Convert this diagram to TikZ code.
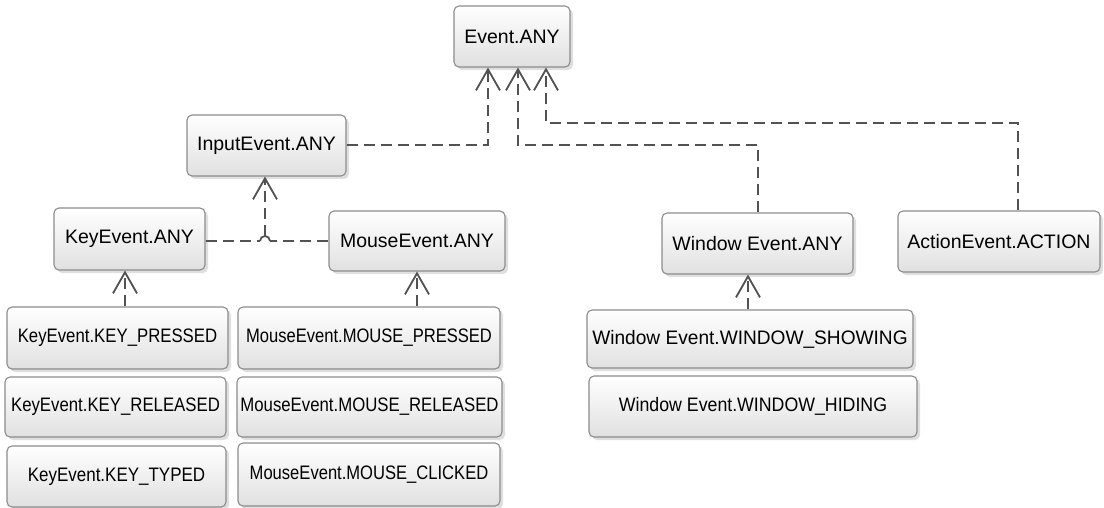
\documentclass[tikz,border=0pt]{standalone}
\usepackage{fontspec}
\usepackage{graphicx}
\setmainfont{Liberation Sans}
\usetikzlibrary{arrows.meta,shadows}
\newcommand{\sq}[2]{\scalebox{#1}[1]{#2}}
\begin{document}
\begin{tikzpicture}[x=1pt,y=-1pt,
  box/.style={draw=black!45, line width=1.1pt, rounded corners=5pt,
    top color=white, bottom color=black!12,
    drop shadow={opacity=0.25,shadow xshift=3pt,shadow yshift=-3pt},
    inner sep=0pt, font=\fontsize{19.5}{22}\selectfont, text=black},
  conn/.style={draw=black!68, line width=1.8pt, dash pattern=on 11pt off 6pt},
  arr/.style={conn, -{Straight Barb[length=21pt,width=24pt,line width=1.8pt]}}]
\fill[white] (0,0) rectangle (1104,508);
\useasboundingbox (0,0) rectangle (1104,508);

\node[box, minimum width=116pt, minimum height=61pt] (ev) at (512,36.5) {Event.ANY};
\node[box, minimum width=159pt, minimum height=61pt] (inp) at (266.5,145.5) {InputEvent.ANY};
\node[box, minimum width=151pt, minimum height=62pt] (key) at (129.5,239) {KeyEvent.ANY};
\node[box, minimum width=176pt, minimum height=60pt] (mouse) at (417,241) {MouseEvent.ANY};
\node[box, minimum width=191pt, minimum height=61pt] (win) at (757.5,243.5) {Window Event.ANY};
\node[box, minimum width=202pt, minimum height=61pt] (act) at (999,241.5) {ActionEvent.ACTION};

\node[box, minimum width=221pt, minimum height=62pt] (kp) at (117.5,338) {\sq{0.86}{KeyEvent.KEY\_PRESSED}};
\node[box, minimum width=221pt, minimum height=60pt] (kr) at (115.5,407) {\sq{0.86}{KeyEvent.KEY\_RELEASED}};
\node[box, minimum width=219pt, minimum height=61pt] (kt) at (116.5,476.5) {\sq{0.87}{KeyEvent.KEY\_TYPED}};
\node[box, minimum width=262pt, minimum height=62pt] (mp) at (369,338) {\sq{0.85}{MouseEvent.MOUSE\_PRESSED}};
\node[box, minimum width=265pt, minimum height=60pt] (mr) at (369.5,407) {\sq{0.86}{MouseEvent.MOUSE\_RELEASED}};
\node[box, minimum width=262pt, minimum height=63pt] (mc) at (369,474.5) {\sq{0.85}{MouseEvent.MOUSE\_CLICKED}};
\node[box, minimum width=326pt, minimum height=58pt] (ws) at (750,339) {\sq{0.98}{Window Event.WINDOW\_SHOWING}};
\node[box, minimum width=328pt, minimum height=61pt] (wh) at (753,406.5) {\sq{0.91}{Window Event.WINDOW\_HIDING}};

% connectors to Event.ANY
\coordinate (a1) at (488,145);
\coordinate (a2) at (518,145);
\coordinate (a3) at (546,123);
\coordinate (w0) at (758,0);
\coordinate (c0) at (1018,0);
\draw[arr] (inp.east |- a1) -- (a1) -- (a1 |- ev.south);
\draw[arr] (w0 |- win.north) |- (a2) -- (a2 |- ev.south);
\draw[arr] (c0 |- act.north) |- (a3) -- (a3 |- ev.south);

% Key/Mouse to InputEvent
\coordinate (j) at (265,241);
\draw[conn] (key.east |- j) -- ([xshift=-5pt]j);
\draw[conn] (mouse.west |- j) -- ([xshift=5pt]j);
\draw[draw=black!68, line width=1.8pt] ([xshift=-5pt]j) arc[start angle=180,end angle=0,radius=5pt];
\draw[arr] ([yshift=5pt]j) -- (j |- inp.south);

% children
\coordinate (k0) at (125,0);
\coordinate (wx) at (748,0);
\draw[arr] (k0 |- kp.north) -- (k0 |- key.south);
\draw[arr] (mouse.south |- mp.north) -- (mouse.south);
\draw[arr] (wx |- ws.north) -- (wx |- win.south);
\end{tikzpicture}
\end{document}
